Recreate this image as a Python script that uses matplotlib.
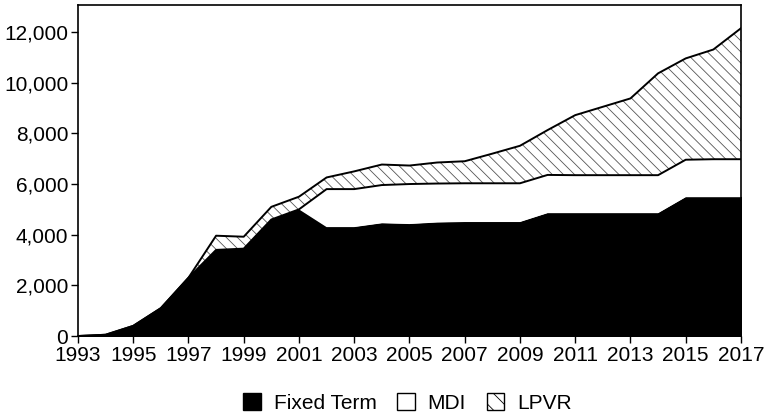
import matplotlib.pyplot as plt
import numpy as np
from matplotlib.patches import Patch
from matplotlib.ticker import FuncFormatter

plt.rcParams['font.family'] = ['Liberation Sans', 'DejaVu Sans']
plt.rcParams['hatch.linewidth'] = 0.6

years = list(range(1993, 2018))
fixed_term = [0, 50, 400, 1100, 2300, 3400, 3450, 4600, 5000, 4300, 4300, 4450, 4420,
              4480, 4500, 4500, 4500, 4850, 4850, 4850, 4850, 4850, 5480, 5480, 5480]
mdi = [0, 0, 0, 0, 0, 0, 0, 0, 0, 1500, 1500, 1510, 1580,
       1540, 1530, 1530, 1530, 1510, 1500, 1500, 1500, 1500, 1480, 1500, 1500]
lpvr = [0, 0, 0, 0, 0, 560, 470, 500, 500, 460, 700, 810, 730,
        830, 870, 1170, 1480, 1770, 2370, 2700, 3030, 4020, 4000, 4330, 5170]

x = np.array(years)
f = np.array(fixed_term)
m = f + np.array(mdi)
t = m + np.array(lpvr)

fig = plt.figure(figsize=(7.66, 4.13), dpi=100)
ax = fig.add_axes([0.1018, 0.1864, 0.8655, 0.8016])

ax.fill_between(x, 0, f, facecolor='black', edgecolor='black', linewidth=1.2)
ax.fill_between(x, f, m, facecolor='white', edgecolor='none')
ax.fill_between(x, m, t, facecolor='white', edgecolor='#555555', hatch='\\\\\\', linewidth=0)
ax.plot(x, m, color='black', lw=1.4)
ax.plot(x, t, color='black', lw=1.4)

ax.set_xlim(1993, 2017)
ax.set_ylim(0, 13070)
ax.set_xticks(range(1993, 2018, 2))
ax.set_yticks(range(0, 12001, 2000))
ax.yaxis.set_major_formatter(FuncFormatter(lambda v, p: f'{int(v):,}'))
ax.tick_params(labelsize=15, length=5, width=1, direction='out', pad=2)
for s in ax.spines.values():
    s.set_linewidth(1.2)

handles = [Patch(facecolor='black', edgecolor='black', label='Fixed Term'),
           Patch(facecolor='white', edgecolor='black', label='MDI'),
           Patch(facecolor='white', edgecolor='black', hatch='\\\\', label='LPVR')]
fig.legend(handles=handles, loc='lower center', bbox_to_anchor=(0.532, -0.045), ncol=3,
           frameon=False, fontsize=15, handlelength=0.85, handleheight=0.85,
           columnspacing=1.0, handletextpad=0.6)

fig.savefig('out.png', dpi=100)
